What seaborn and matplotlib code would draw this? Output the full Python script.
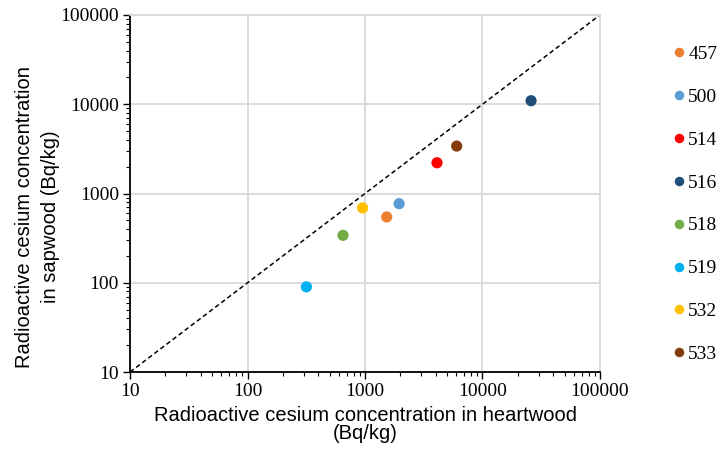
import numpy as np
import pandas as pd
import matplotlib
matplotlib.use("Agg")
import matplotlib.pyplot as plt
import seaborn as sns
from matplotlib.ticker import LogLocator, FixedLocator, NullFormatter

# tree IDs and concentrations (Bq/kg)
trees = ["457", "500", "514", "516", "518", "519", "532", "533"]
heartwood = [1530, 1950, 4100, 25900, 650, 317, 955, 6030]
sapwood = [546, 769, 2210, 10950, 340, 90, 689, 3400]
colors = ["#ED7D31", "#5B9BD5", "#FF0000", "#1F4E79",
          "#70AD47", "#00B0F0", "#FFC000", "#843C0C"]

df = pd.DataFrame({"tree": trees, "heart": heartwood, "sap": sapwood})

sns.set_style("white")
plt.rcParams["text.color"] = "black"
plt.rcParams["axes.labelcolor"] = "black"
plt.rcParams["xtick.color"] = "black"
plt.rcParams["ytick.color"] = "black"

fig = plt.figure(figsize=(7.2, 4.61), dpi=100)
ax = fig.add_axes([0.1806, 0.193, 0.6527, 0.7745])

# 1:1 line
ax.plot([10, 100000], [10, 100000], color="black", linestyle=(0, (3, 2)), lw=1.1, zorder=2)

sns.scatterplot(data=df, x="heart", y="sap", hue="tree", palette=colors,
                s=65, edgecolor="none", ax=ax, zorder=3, legend=True)

ax.set_xscale("log")
ax.set_yscale("log")
ax.set_xlim(10, 100000)
ax.set_ylim(10, 100000)

decades = [10, 100, 1000, 10000, 100000]
ax.xaxis.set_major_locator(FixedLocator(decades))
ax.yaxis.set_major_locator(FixedLocator(decades))
ax.set_xticklabels([str(d) for d in decades], fontfamily="Liberation Serif", fontsize=14)
ax.set_yticklabels([str(d) for d in decades], fontfamily="Liberation Serif", fontsize=14)
ax.xaxis.set_minor_locator(LogLocator(base=10, subs=np.arange(2, 10)))
ax.yaxis.set_minor_locator(LogLocator(base=10, subs=np.arange(2, 10)))
ax.xaxis.set_minor_formatter(NullFormatter())
ax.yaxis.set_minor_formatter(NullFormatter())
ax.tick_params(which="major", direction="out", length=5, width=1, color="black", pad=3)
ax.tick_params(which="minor", direction="out", length=3, width=0.8, color="black")
ax.tick_params(axis="x", which="both", bottom=True)
ax.tick_params(axis="y", which="both", left=True)

ax.grid(True, which="major", color="#D9D9D9", lw=1.3)
ax.set_axisbelow(True)
for side in ["top", "right"]:
    ax.spines[side].set_color("#D9D9D9")
    ax.spines[side].set_linewidth(1.3)
for side in ["left", "bottom"]:
    ax.spines[side].set_color("black")
    ax.spines[side].set_linewidth(1.3)

ax.set_xlabel("Radioactive cesium concentration in heartwood\n(Bq/kg)",
              fontfamily="Liberation Sans", fontsize=14.5, labelpad=4, linespacing=0.95)
ax.set_ylabel("Radioactive cesium concentration\nin sapwood (Bq/kg)",
              fontfamily="Liberation Sans", fontsize=14.5, linespacing=1.45)
ax.yaxis.set_label_coords(-0.149, 0.434)

leg = ax.legend(loc="upper left", bbox_to_anchor=(1.13, 0.937), frameon=False,
                prop={"family": "Liberation Serif", "size": 14},
                handlelength=1.0, handletextpad=0.0, labelspacing=1.3,
                markerscale=0.85, borderaxespad=0, title=None)

fig.savefig("out.png", dpi=100)
